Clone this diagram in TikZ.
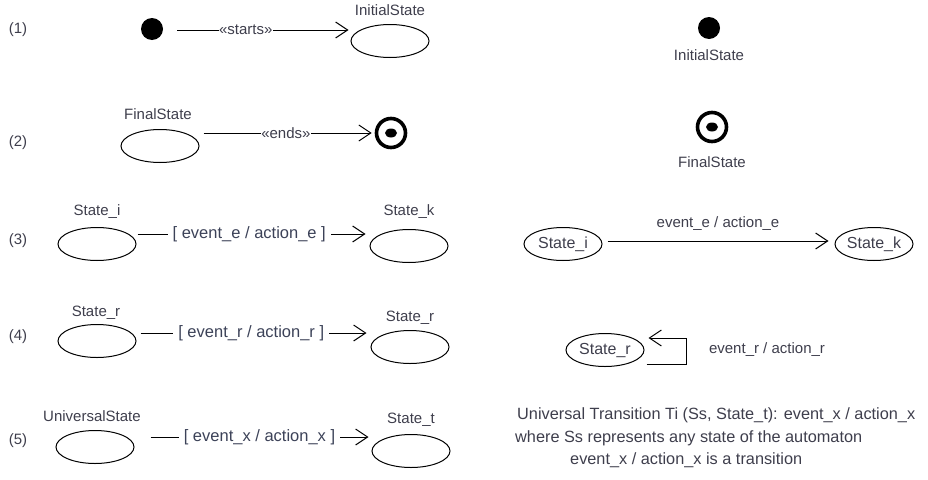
\documentclass[tikz,border=0pt]{standalone}
\usepackage{fontspec}
\setmainfont{Liberation Sans}
\usetikzlibrary{arrows.meta,shapes.geometric,calc}
\definecolor{txt}{RGB}{62,62,76}
\definecolor{trtxt}{RGB}{60,66,88}
\begin{document}
\begin{tikzpicture}[x=1pt,y=-1pt,
  lbl/.style={text=txt,font=\fontsize{15}{18}\selectfont,inner sep=0pt},
  rownum/.style={text=txt,font=\fontsize{15}{18}\selectfont,inner sep=0pt},
  trlbl/.style={text=trtxt,font=\fontsize{16.5}{19}\selectfont,fill=white,inner ysep=1pt,inner xsep=5pt},
  stereo/.style={text=txt,font=\fontsize{15}{18}\selectfont,fill=white,inner sep=0.5pt},
  statebox/.style={draw,ellipse,line width=1pt,minimum width=78pt,minimum height=33pt,inner sep=0pt,
    text=txt,font=\fontsize{16}{19}\selectfont},
  initdot/.style={circle,fill=black,minimum size=22pt,inner sep=0pt},
  finalring/.style={circle,draw,line width=3.6pt,minimum size=29pt,inner sep=0pt},
  open/.style={-{Straight Barb[length=12pt,width=16pt,line width=1pt]},line width=1pt},
  note/.style={text=txt,font=\fontsize{16.3}{19}\selectfont,inner sep=0pt,anchor=west}]
\path[use as bounding box] (0,0) rectangle (928,479);

% row numbers
\node[rownum] (n1) at (18,30) {(1)};
\node[rownum] (n2) at (18,143) {(2)};
\node[rownum] (n3) at (18,241) {(3)};
\node[rownum] (n4) at (18,337) {(4)};
\node[rownum] (n5) at (18,441) {(5)};

% (1) initial state
\node[initdot] (d1) at (152,29) {};
\node[statebox] (i1) at (390,41) {};
\node[lbl] (i1l) at (390,10) {InitialState};
\draw[open] ($(d1.east)+(14,1)$) -- ($(i1.west)+(-2,-11)$)
  node[stereo,pos=0.4] {«starts»};
\node[initdot] (d1r) at (709,28) {};
\node[lbl] (d1rl) at (709,55) {InitialState};

% (2) final state
\node[statebox] (f1) at (160,146) {};
\node[lbl] (f1l) at (158,114) {FinalState};
\node[finalring] (b1) at (391,133) {};
\fill (b1.center) ellipse (6 and 4.5);
\draw[open] ($(f1.east)+(4,-13)$) -- ($(b1.west)+(-3,0)$)
  node[stereo,pos=0.49] {«ends»};
\node[finalring] (b1r) at (712,127) {};
\fill (b1r.center) ellipse (6 and 4.5);
\node[lbl] (b1rl) at (712,162) {FinalState};

% (3) transition
\node[statebox] (si) at (97,244) {};
\node[lbl] (sil) at (97,212) {State\_i};
\node[statebox] (sk) at (409,246) {};
\node[lbl] (skl) at (409,212) {State\_k};
\draw[open] ($(si.east)+(1,-10)$) -- ($(sk.west)+(-4,-12)$)
  node[trlbl,pos=0.49] {[ event\_e / action\_e ]};
\node[statebox] (ri) at (563,244) {State\_i};
\node[statebox] (rk) at (874,244) {State\_k};
\draw[open] ($(ri.east)+(5,-3)$) -- ($(rk.west)+(-6,-3)$)
  node[lbl,midway,yshift=17pt] {event\_e / action\_e};

% (4) self transition
\node[statebox] (sr1) at (97,341) {};
\node[lbl] (sr1l) at (96,313) {State\_r};
\node[statebox] (sr2) at (410,347) {};
\node[lbl] (sr2l) at (410,318) {State\_r};
\draw[open] ($(sr1.east)+(4,-8)$) -- ($(sr2.west)+(-4,-14)$)
  node[trlbl,pos=0.49] {[ event\_r / action\_r ]};
\node[statebox] (rr) at (605,350) {State\_r};
\coordinate (loopa) at ($(rr.east)+(2,14)$);
\coordinate (loopb) at ($(rr.east)+(4,-12)$);
\draw[open] (loopa) -- ++(40,0) |- (loopb);
\node[lbl] (rrl) at (767,350) {event\_r / action\_r};

% (5) universal transition
\node[statebox] (us) at (95,447) {};
\node[lbl] (usl) at (92,416) {UniversalState};
\node[statebox] (st) at (411,451) {};
\node[lbl] (stl) at (411,420) {State\_t};
\draw[open] ($(us.east)+(16,-10)$) -- ($(st.west)+(-3,-14)$)
  node[trlbl,pos=0.5] {[ event\_x / action\_x ]};
\node[note] (t1) at (517,415) {Universal Transition Ti (Ss, State\_t): event\_x / action\_x};
\node[note] (t2) at (515,438) {where Ss represents any state of the automaton};
\node[note] (t3) at (570,460) {event\_x / action\_x is a transition};
\end{tikzpicture}
\end{document}
